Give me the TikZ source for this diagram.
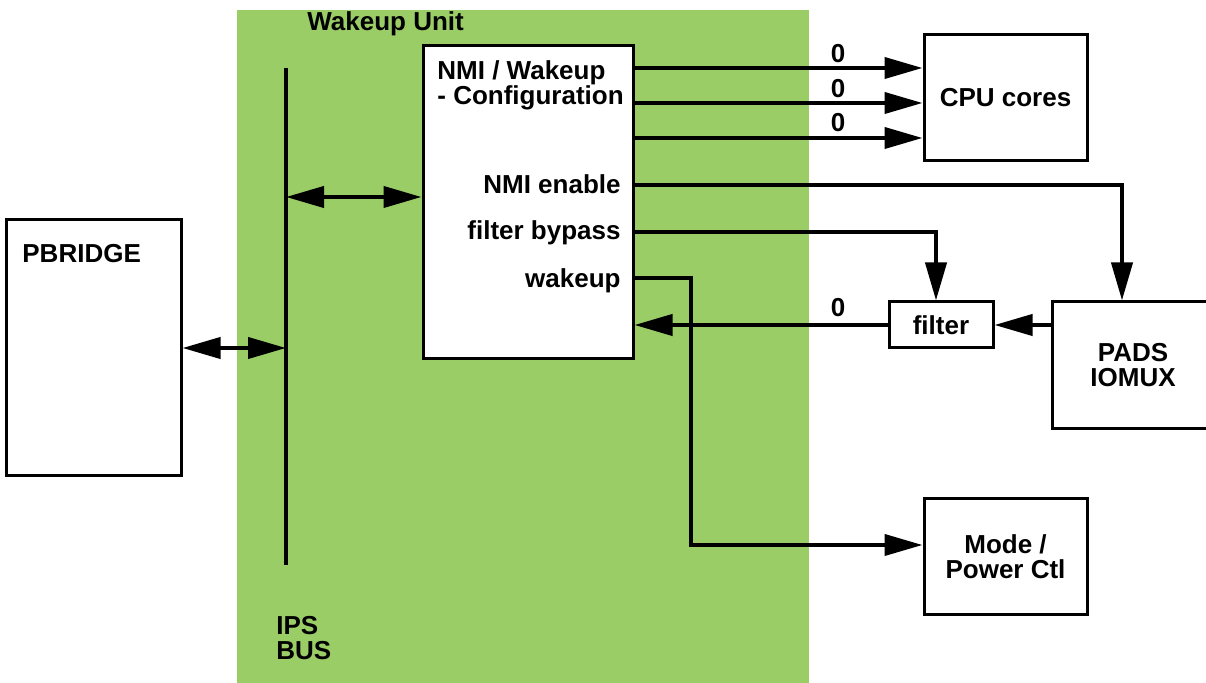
\documentclass[tikz,border=0pt]{standalone}
\usepackage{fontspec}
\setmainfont{Liberation Sans}
\usetikzlibrary{arrows.meta}
\definecolor{wgreen}{HTML}{9ACD66}
\begin{document}
\begin{tikzpicture}[x=0.5pt,y=-0.5pt,
  lbl/.style={font=\fontsize{13}{12.5}\selectfont\bfseries, inner sep=0pt},
  box/.style={draw, line width=1.5pt, fill=white, inner sep=0pt, align=center,
              font=\fontsize{13}{12.5}\selectfont\bfseries},
  conn/.style={line width=2pt},
  >={Triangle[length=19pt,width=10.5pt]}]
\clip (0,0) rectangle (1206,683);
\fill[wgreen] (237,10) rectangle (809,683);
% boxes
\node[box, minimum width=87.5pt, minimum height=128pt] (pbridge) at (93.5,348) {};
\node[lbl, anchor=base west] (pbtxt) at (22,263) {PBRIDGE};
\node[box, minimum width=105pt, minimum height=156.5pt] (nmi) at (528,202.5) {};
\node[lbl, anchor=north west, align=left] (nmitxt) at (437,60) {NMI / Wakeup\\- Configuration};
\node[lbl, anchor=base east] (nmien) at (621,194) {NMI enable};
\node[lbl, anchor=base east] (fbyp) at (621,240) {filter bypass};
\node[lbl, anchor=base east] (wk) at (621,288) {wakeup};
\node[box, minimum width=81.5pt, minimum height=63pt] (cpu) at (1005.5,98) {CPU cores};
\node[box, minimum width=52pt, minimum height=23pt] (filter) at (941,325) {filter};
\node[box, minimum width=81pt, minimum height=63.5pt] (pads) at (1133,365.5) {PADS\\IOMUX};
\node[box, minimum width=81.5pt, minimum height=58pt] (mode) at (1005.5,557) {Mode /\\Power Ctl};
\node[lbl, anchor=base west] (wu) at (307,31) {Wakeup Unit};
\node[lbl, anchor=north west, align=left] (ips) at (276,616) {IPS\\BUS};
% bus
\coordinate (bustop) at (286,68);
\coordinate (busbot) at (286,565);
\draw[line width=1.8pt] (bustop) -- (busbot);
% connectors
\draw[conn,<->] (pbridge.east |- 0,348) -- (bustop |- 0,348);
\draw[conn,<->] (bustop |- 0,197) -- (nmi.west |- 0,197);
\foreach \y/\n/\b in {68/a/63,103/b/98,138/c/132} {
  \draw[conn,->] (nmi.east |- 0,\y) -- (cpu.west |- 0,\y);
  \node[lbl, anchor=base] (z\n) at (838,\b) {0};
}
\draw[conn,->] (nmi.east |- 0,185) -| (pads.north -| 1122,0);
\draw[conn,->] (nmi.east |- 0,232) -| (filter.north -| 936,0);
\coordinate (wkbend) at (691,545);
\draw[conn,->] (nmi.east |- 0,278) -| (wkbend) -- (mode.west |- wkbend);
\draw[conn,->] (filter.west) -- (nmi.east |- filter.west);
\node[lbl, anchor=base] (zd) at (838,317) {0};
\draw[conn,->] (pads.west |- filter.east) -- (filter.east);
\end{tikzpicture}
\end{document}
